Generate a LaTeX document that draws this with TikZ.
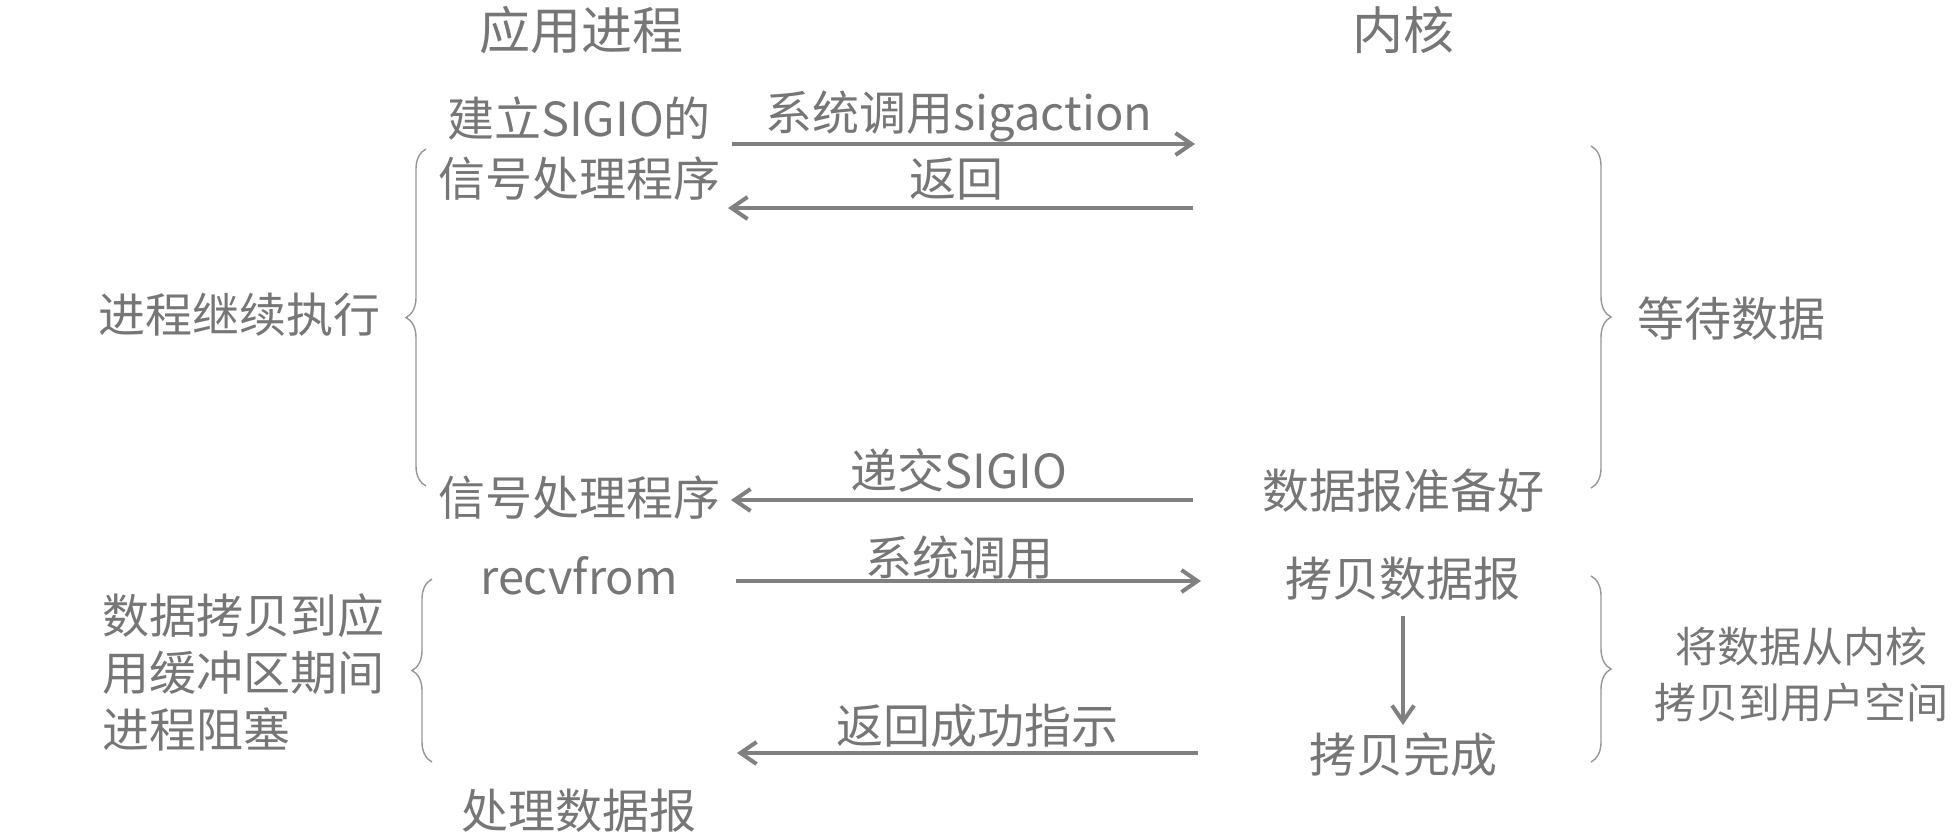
\documentclass[tikz,border=0pt]{standalone}
\usepackage{fontspec}
\setmainfont{Noto Sans CJK SC}
\usetikzlibrary{arrows.meta,decorations.pathreplacing}
\definecolor{txt}{RGB}{118,118,118}
\definecolor{arr}{RGB}{128,128,128}
\definecolor{brcol}{RGB}{150,150,150}
\begin{document}
\begin{tikzpicture}[x=0.5pt,y=-0.5pt,
  lbl/.style={text=txt,inner sep=0pt,font=\fontsize{23.5}{28.5}\selectfont,text height=0.88em,text depth=0.12em,yshift=-4pt},
  multi/.style={text=txt,inner sep=0pt,font=\fontsize{23.5}{28.5}\selectfont},
  ttl/.style={text=txt,inner sep=0pt,font=\fontsize{25.5}{30}\selectfont,text height=0.88em,text depth=0.12em,yshift=-4pt},
  conn/.style={draw=arr,line width=2pt,-{Straight Barb[length=8pt,width=11pt]}},
  brc/.style={draw=brcol,line width=0.7pt,decorate,decoration={brace,amplitude=10pt}}]
\useasboundingbox (0,0) rectangle (1952,836);

% titles
\node[ttl] (tapp) at (581,34) {应用进程};
\node[ttl] (tker) at (1403,34) {内核};

% application side
\node[lbl] (a1) at (579,121) {建立SIGIO的};
\node[lbl] (a2) at (579,181) {信号处理程序};
\node[lbl] (a3) at (579,500) {信号处理程序};
\node[lbl] (a4) at (579,579) {recvfrom};
\node[lbl] (a5) at (579,813) {处理数据报};

% kernel side
\node[lbl] (k1) at (1403,493) {数据报准备好};
\node[lbl] (k2) at (1403,581) {拷贝数据报};
\node[lbl] (k3) at (1403,757) {拷贝完成};

% side notes
\node[lbl] (n1) at (239,317) {进程继续执行};
\node[lbl] (n2) at (1731,321) {等待数据};
\node[multi,align=left,anchor=west] (n3) at (102,672) {数据拷贝到应\\用缓冲区期间\\进程阻塞};
\node[multi,align=center,font=\fontsize{21}{28}\selectfont] (n4) at (1801,675) {将数据从内核\\拷贝到用户空间};

% arrow end points
\coordinate (c1s) at (732,144);  \coordinate (c1e) at (1195,144);
\coordinate (c2s) at (1193,208); \coordinate (c2e) at (728,208);
\coordinate (c3s) at (1193,500); \coordinate (c3e) at (731,500);
\coordinate (c4s) at (736,581);  \coordinate (c4e) at (1201,581);
\coordinate (c5s) at (1198,753); \coordinate (c5e) at (737,753);
\coordinate (kv1) at (1403,616); \coordinate (kv2) at (1403,725);

\draw[conn] (c1s) -- (c1e);
\draw[conn] (c2s) -- (c2e);
\draw[conn] (c3s) -- (c3e);
\draw[conn] (c4s) -- (c4e);
\draw[conn] (c5s) -- (c5e);
\draw[conn] (kv1) -- (kv2);

% arrow labels
\node[lbl] (l1) at (959,115) {系统调用sigaction};
\node[lbl] (l2) at (956,181) {返回};
\node[lbl] (l3) at (959,473) {递交SIGIO};
\node[lbl] (l4) at (959,560) {系统调用};
\node[lbl] (l5) at (977,728) {返回成功指示};

% braces
\coordinate (b1s) at (426,486);  \coordinate (b1e) at (426,149);
\coordinate (b2s) at (1591,146); \coordinate (b2e) at (1591,488);
\coordinate (b3s) at (432,762);  \coordinate (b3e) at (432,579);
\coordinate (b4s) at (1591,576); \coordinate (b4e) at (1591,762);
\draw[brc] (b1s) -- (b1e);
\draw[brc] (b2s) -- (b2e);
\draw[brc] (b3s) -- (b3e);
\draw[brc] (b4s) -- (b4e);
\end{tikzpicture}
\end{document}
